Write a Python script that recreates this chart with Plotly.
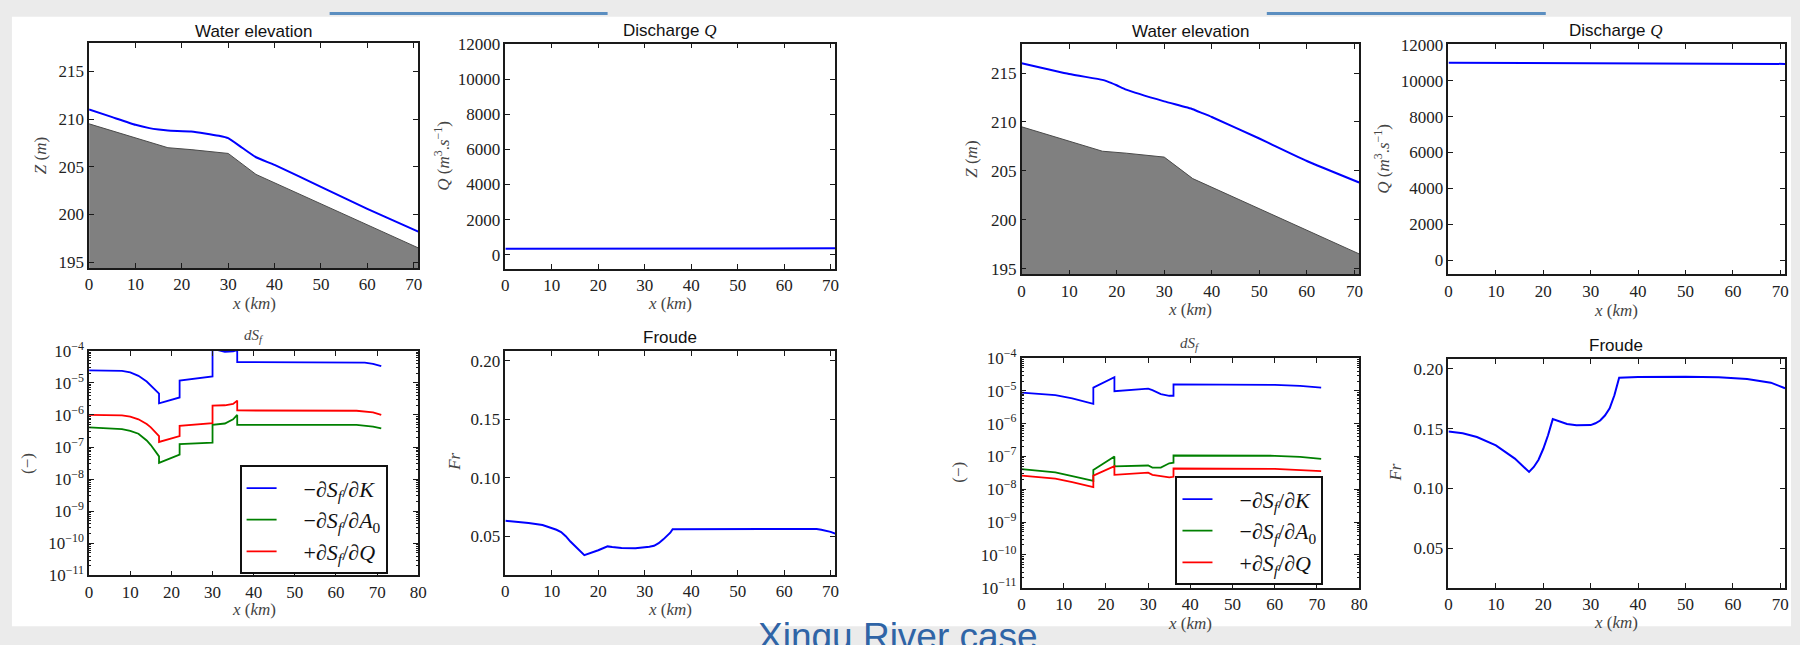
import plotly.graph_objects as go

# ---------------- data ----------------
# river bed profile (shared by both flow cases)
x_bed = [0, 17, 22, 30, 36, 71]
z_bed = [209.5, 207.0, 206.8, 206.4, 204.2, 196.5]

# water surface elevation, low-flow case
x_wse_low = [0, 5, 10, 13, 15, 17, 22, 25, 28, 30, 33, 36, 40, 50, 60, 71]
z_wse_low = [211.0, 210.2, 209.4, 209.05, 208.9, 208.8, 208.7, 208.5, 208.25, 208.0, 207.0, 206.0,
             205.2, 202.9, 200.6, 198.2]

# water surface elevation, high-flow case
x_wse_high = [0, 10, 17, 18, 20, 22, 30, 36, 38, 40, 50, 60, 71]
z_wse_high = [216.0, 214.9, 214.3, 214.15, 213.75, 213.3, 212.1, 211.3, 210.9, 210.5, 208.3,
              206.0, 203.8]

# discharge
x_q = [0, 71]
q_low = [330, 360]
q_high = [11010, 10940]

# friction-slope sensitivities, low-flow case
x_ds_low = [0, 6, 8, 10, 12, 14, 15, 17, 17, 22, 22, 30, 30, 33, 35, 36, 36, 65, 67, 69, 71]
dk_low = [2.45e-5, 2.43e-5, 2.35e-5, 2.1e-5, 1.65e-5, 1.1e-5, 8.3e-6, 4.6e-6, 2.3e-6, 3.5e-6,
          1.17e-5, 1.58e-5, 1.15e-4, 0.93e-4, 0.95e-4, 1.05e-4, 4.46e-5, 4.4e-5, 4.25e-5,
          3.9e-5, 3.3e-5]
da_low = [4.1e-7, 3.8e-7, 3.6e-7, 3.2e-7, 2.6e-7, 1.6e-7, 1.15e-7, 5.1e-8, 3.2e-8, 5.8e-8,
          1.23e-7, 1.38e-7, 4.9e-7, 5.4e-7, 7.3e-7, 1.0e-6, 4.9e-7, 4.9e-7, 4.7e-7, 4.3e-7, 3.8e-7]
dq_low = [1.0e-6, 0.99e-6, 0.97e-6, 0.88e-6, 7.3e-7, 5.2e-7, 4.1e-7, 2.2e-7, 1.44e-7, 2.2e-7,
          4.6e-7, 5.5e-7, 1.95e-6, 2.0e-6, 2.2e-6, 2.8e-6, 1.38e-6, 1.35e-6, 1.3e-6, 1.2e-6, 1.0e-6]

# friction-slope sensitivities, high-flow case
x_ds_high = [0, 8, 12, 17, 17, 22, 22, 30, 31, 33, 35, 36, 36, 60, 66, 71]
dk_high = [8.9e-6, 7.4e-6, 5.9e-6, 4.0e-6, 1.26e-5, 2.6e-5, 9.8e-6, 1.17e-5, 1.05e-5, 8.0e-6,
           7.1e-6, 7.1e-6, 1.57e-5, 1.53e-5, 1.42e-5, 1.26e-5]
da_high = [4.1e-8, 3.3e-8, 2.5e-8, 1.8e-8, 3.9e-8, 1.0e-7, 5.0e-8, 5.3e-8, 4.6e-8, 4.6e-8,
           6.2e-8, 6.5e-8, 1.07e-7, 1.05e-7, 9.7e-8, 8.5e-8]
dq_high = [2.6e-8, 2.1e-8, 1.66e-8, 1.17e-8, 2.6e-8, 5.1e-8, 2.75e-8, 3.2e-8, 2.75e-8, 2.5e-8,
           2.3e-8, 2.4e-8, 4.3e-8, 4.2e-8, 3.9e-8, 3.6e-8]

# Froude number
x_fr_low = [0, 5, 8, 10, 11, 12, 13, 14, 15, 16, 17, 20, 22, 23, 25, 28, 30, 31, 32, 33, 34,
            35, 35.5, 36, 50, 65, 67, 68, 69, 70, 71]
fr_low = [0.0632, 0.0613, 0.0595, 0.0569, 0.0555, 0.0536, 0.0500, 0.0454, 0.0415, 0.0376,
          0.0338, 0.0380, 0.0413, 0.0408, 0.0400, 0.0398, 0.0404, 0.0410, 0.0418, 0.0440,
          0.0473, 0.0508, 0.0530, 0.0560, 0.0563, 0.0563, 0.0561, 0.0555, 0.0548, 0.0537, 0.0522]
x_fr_high = [0, 3, 6, 10, 14, 17, 18, 19, 20, 21, 22, 23, 25, 27, 29, 30, 31, 32, 33, 34, 35,
             35.5, 36, 40, 50, 57, 63, 68, 71]
fr_high = [0.1476, 0.1462, 0.1430, 0.1360, 0.1250, 0.1138, 0.1180, 0.1240, 0.1332, 0.1445,
           0.1580, 0.1565, 0.1540, 0.1528, 0.1526, 0.1530, 0.1545, 0.1568, 0.1610, 0.1670,
           0.1780, 0.1850, 0.1927, 0.1932, 0.1935, 0.1930, 0.1915, 0.1885, 0.1838]

legend_names = ["−∂<i>S<sub>f</sub></i>/∂<i>K</i>",
                "−∂<i>S<sub>f</sub></i>/∂<i>A</i><sub>0</sub>",
                "+∂<i>S<sub>f</sub></i>/∂<i>Q</i>"]

# ---------------- layout geometry ----------------
W, H = 1800, 645
# panel boxes in pixels: (left, right, top, bottom)
boxes = {
    1: (85.7, 417.3, 32.3, 265.0),    # water elevation, low
    2: (505.0, 837.3, 32.7, 265.7),   # discharge, low
    3: (85.7, 417.3, 350.7, 583.3),   # dSf, low
    4: (505.0, 837.3, 350.7, 582.7),  # Froude, low
    5: (1025.0, 1365.0, 33.3, 271.7), # water elevation, high
    6: (1455.0, 1794.0, 33.3, 271.7), # discharge, high
    7: (1025.0, 1365.0, 358.3, 596.0),# dSf, high
    8: (1455.0, 1794.0, 359.0, 596.0),# Froude, high
}

BLUE, GREEN, RED = "#0000ff", "#008000", "#ff0000"
SERIF = "Liberation Serif, DejaVu Serif, Times New Roman, serif"
SANS = "Liberation Sans, Arial, Helvetica, sans-serif"

fig = go.Figure()


def ax(i, letter):
    return letter if i == 1 else f"{letter}{i}"


def add(trace, i):
    trace.update(xaxis=ax(i, "x"), yaxis=ax(i, "y"))
    fig.add_trace(trace)


# water elevation panels
for i, xw, zw in [(1, x_wse_low, z_wse_low), (5, x_wse_high, z_wse_high)]:
    add(go.Scatter(x=x_bed, y=z_bed, mode="lines", fill="tozeroy", fillcolor="#808080",
                   line=dict(color="#4a4a4a", width=1), showlegend=False, hoverinfo="skip"), i)
    add(go.Scatter(x=xw, y=zw, mode="lines",
                   line=dict(color=BLUE, width=2, shape="spline", smoothing=0.4),
                   showlegend=False), i)

# discharge panels
add(go.Scatter(x=x_q, y=q_low, mode="lines", line=dict(color=BLUE, width=2), showlegend=False), 2)
add(go.Scatter(x=x_q, y=q_high, mode="lines", line=dict(color=BLUE, width=2), showlegend=False), 6)

# sensitivity panels
pad = "\u00a0\u00a0\u00a0\u00a0"
for i, xs, series, leg in [(3, x_ds_low, (dk_low, da_low, dq_low), "legend"),
                           (7, x_ds_high, (dk_high, da_high, dq_high), "legend2")]:
    for vals, col, name in zip(series, (BLUE, GREEN, RED), legend_names):
        add(go.Scatter(x=xs, y=vals, mode="lines", name=pad + name, legend=leg,
                       line=dict(color=col, width=1.8)), i)

# Froude panels
add(go.Scatter(x=x_fr_low, y=fr_low, mode="lines", line=dict(color=BLUE, width=2),
               showlegend=False), 4)
add(go.Scatter(x=x_fr_high, y=fr_high, mode="lines", line=dict(color=BLUE, width=2),
               showlegend=False), 8)

# ---------------- axes ----------------
axis_common = dict(showline=True, linecolor="#1a1a1a", linewidth=1.6, mirror="ticks",
                   ticks="inside", ticklen=5, tickwidth=1.1, tickcolor="#1a1a1a",
                   showgrid=False, zeroline=False,
                   tickfont=dict(family=SERIF, size=17, color="#222"))

log_major = [10.0 ** e for e in range(-11, -3)]
log_text = [f"10<sup>−{-e}</sup>" for e in range(-11, -3)]
log_minor = [m * 10.0 ** e for e in range(-11, -4) for m in range(2, 10)]

q_ticks = list(range(0, 12001, 2000))
fr_ticks = [0.05, 0.10, 0.15, 0.20]
z_ticks = [195, 200, 205, 210, 215]

yspec = {
    1: dict(range=[194.4, 217.95], tickvals=z_ticks, ticktext=[str(v) for v in z_ticks]),
    5: dict(range=[194.4, 217.95], tickvals=z_ticks, ticktext=[str(v) for v in z_ticks]),
    2: dict(range=[-800, 12040], tickvals=q_ticks, ticktext=[str(v) for v in q_ticks]),
    6: dict(range=[-800, 12040], tickvals=q_ticks, ticktext=[str(v) for v in q_ticks]),
    4: dict(range=[0.017, 0.2085], tickvals=fr_ticks, ticktext=[f"{v:.2f}" for v in fr_ticks]),
    8: dict(range=[0.017, 0.2085], tickvals=fr_ticks, ticktext=[f"{v:.2f}" for v in fr_ticks]),
    3: dict(type="log", range=[-11, -4], tickvals=log_major, ticktext=log_text,
            minor=dict(tickvals=log_minor, ticks="inside", ticklen=2.5, tickcolor="#1a1a1a")),
    7: dict(type="log", range=[-11, -4], tickvals=log_major, ticktext=log_text,
            minor=dict(tickvals=log_minor, ticks="inside", ticklen=2.5, tickcolor="#1a1a1a")),
}

layout_axes = {}
for i, (l, r, t, b) in boxes.items():
    xt = list(range(0, 81, 10)) if i in (3, 7) else list(range(0, 71, 10))
    xr = [0, 80] if i in (3, 7) else [0, 71]
    layout_axes["xaxis" if i == 1 else f"xaxis{i}"] = dict(
        domain=[l / W, r / W], anchor=ax(i, "y"), range=xr, tickvals=xt,
        ticktext=[str(v) for v in xt], **axis_common)
    layout_axes["yaxis" if i == 1 else f"yaxis{i}"] = dict(
        domain=[1 - b / H, 1 - t / H], anchor=ax(i, "x"), **yspec[i], **axis_common)

fig.update_layout(**layout_axes)

# ---------------- text ----------------
ann = []


def text(x, y, s, size=17, family=SERIF, color="#333", angle=0):
    ann.append(dict(x=x / W, y=1 - y / H, xref="paper", yref="paper", text=s, showarrow=False,
                    xanchor="center", yanchor="middle", textangle=angle,
                    font=dict(family=family, size=size, color=color)))


# panel titles
text(251.5, 20, "Water elevation", family=SANS, color="#111")
text(1195, 20, "Water elevation", family=SANS, color="#111")
qt = "Discharge <span style=\"font-family:Liberation Serif\"><i>Q</i></span>"
text(671, 19.5, qt, family=SANS, color="#111")
text(1624, 19.5, qt, family=SANS, color="#111")
text(251.5, 335.5, "<i>dS<sub>f</sub></i>", size=15, color="#444")
text(1195, 344, "<i>dS<sub>f</sub></i>", size=15, color="#444")
text(671, 336.5, "Froude", family=SANS, color="#111")
text(1624, 345, "Froude", family=SANS, color="#111")

# x-axis titles
xlab = "<i>x</i> (<i>km</i>)"
for cx, cy in [(251.5, 301.7), (671, 301.7), (1195, 308), (1624, 309),
               (251.5, 619), (671, 619), (1195, 633), (1624, 632)]:
    text(cx, cy, xlab, color="#444")

# y-axis titles
zlab = "<i>Z</i> (<i>m</i>)"
qlab = "<i>Q</i> (<i>m</i><sup>3</sup>.<i>s</i><sup>−1</sup>)"
text(37, 148.5, zlab, color="#444", angle=-90)
text(975, 152, zlab, color="#444", angle=-90)
text(441, 149, qlab, color="#444", angle=-90)
text(1388, 152, qlab, color="#444", angle=-90)
text(23, 467, "(−)", color="#444", angle=-90)
text(962, 477, "(−)", color="#444", angle=-90)
text(453, 466, "<i>Fr</i>", color="#444", angle=-90)
text(1402, 477, "<i>Fr</i>", color="#444", angle=-90)

# slide caption, partly running off the bottom edge
ann.append(dict(x=0.5, y=1 - 647 / H, xref="paper", yref="paper", text="Xingu River case",
                showarrow=False, xanchor="center", yanchor="middle",
                font=dict(family=SANS, size=37, color="#2F64A6")))

legend_style = dict(xanchor="left", yanchor="top", bgcolor="white", bordercolor="#111",
                    borderwidth=2, font=dict(family=SERIF, size=22, color="#111"),
                    itemwidth=30, tracegroupgap=0)

fig.update_layout(
    width=W, height=H, margin=dict(l=0, r=0, t=0, b=0),
    paper_bgcolor="#ebebeb", plot_bgcolor="white",
    annotations=ann,
    legend=dict(x=237.3 / W, y=1 - 469.3 / H, **legend_style),
    legend2=dict(x=1180 / W, y=1 - 480.7 / H, **legend_style),
    shapes=[
        dict(type="rect", xref="paper", yref="paper", x0=8 / W, x1=1, y0=1 - 636 / H, y1=1 - 5 / H,
             fillcolor="white", line=dict(width=0), layer="below"),
        dict(type="rect", xref="paper", yref="paper", x0=328 / W, x1=608 / W, y0=1 - 3 / H, y1=1,
             fillcolor="#5B8EC0", line=dict(width=0), layer="below"),
        dict(type="rect", xref="paper", yref="paper", x0=1272 / W, x1=1553 / W, y0=1 - 3 / H, y1=1,
             fillcolor="#5B8EC0", line=dict(width=0), layer="below"),
    ],
)

fig.write_html("out.html")
